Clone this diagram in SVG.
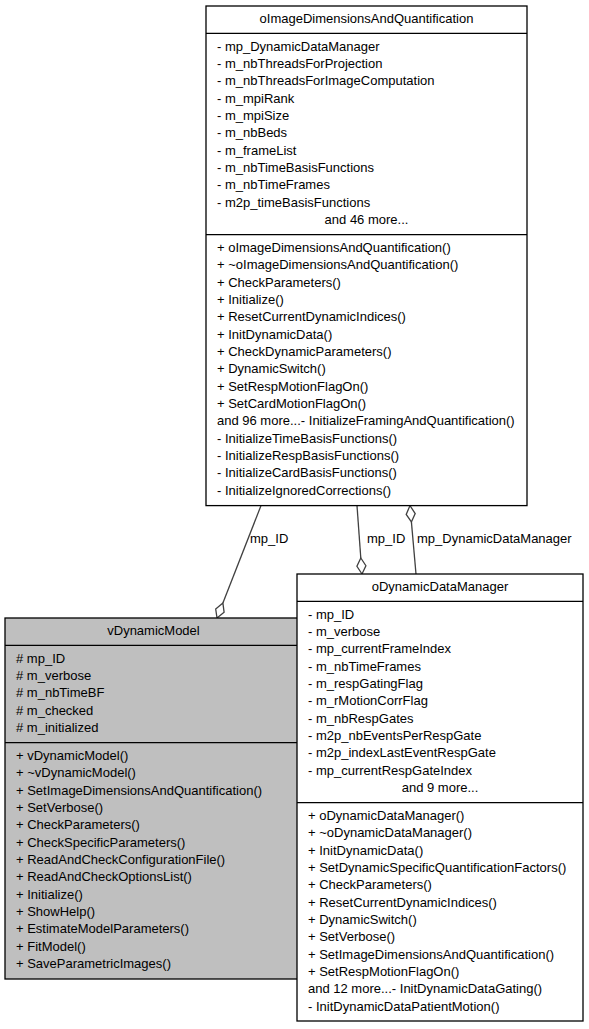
<svg xmlns="http://www.w3.org/2000/svg" width="589" height="1029" viewBox="0 0 589 1029">
<style>
text{font-family:"Liberation Sans",Arial,Helvetica,sans-serif;font-size:13px;fill:#000}
.c{text-anchor:middle}
.box{fill:#fff;stroke:#000;stroke-width:1.3}
.gbox{fill:#bfbfbf;stroke:#000;stroke-width:1.3}
.sep{stroke:#000;stroke-width:1.3}
.edge{fill:none;stroke:#404040;stroke-width:1.3}
.dia{fill:#fff;stroke:#404040;stroke-width:1.3}
</style>
<rect x="0" y="0" width="589" height="1029" fill="#fff"/>
<g id="connectors">
<path class="edge" d="M261,505.6 L222.9,603.1"/>
<polygon class="dia" points="217,618 215.7,609 222.9,603.1 224.1,612.2"/>
<text x="250" y="543">mp_ID</text>
<path class="edge" d="M357,505.6 L360.8,558"/>
<polygon class="dia" points="362,574 356.9,566.3 360.8,558 365.9,565.7"/>
<text x="367" y="543">mp_ID</text>
<path class="edge" d="M416,574 L411.4,521.9"/>
<polygon class="dia" points="410,505.6 415.2,513.6 411.4,521.9 406.2,514.4"/>
<text x="417" y="543">mp_DynamicDataManager</text>
</g>
<g id="oImageDimensionsAndQuantification">
<rect class="box" x="206" y="6" width="321" height="499.6"/>
<line class="sep" x1="206" y1="33.3" x2="527" y2="33.3"/>
<line class="sep" x1="206" y1="234.6" x2="527" y2="234.6"/>
<text class="c" x="366.5" y="23.3">oImageDimensionsAndQuantification</text>
<text x="217" y="50.7">- mp_DynamicDataManager</text>
<text x="217" y="68">- m_nbThreadsForProjection</text>
<text x="217" y="85.3">- m_nbThreadsForImageComputation</text>
<text x="217" y="102.7">- m_mpiRank</text>
<text x="217" y="120">- m_mpiSize</text>
<text x="217" y="137.3">- m_nbBeds</text>
<text x="217" y="154.7">- m_frameList</text>
<text x="217" y="172">- m_nbTimeBasisFunctions</text>
<text x="217" y="189.3">- m_nbTimeFrames</text>
<text x="217" y="206.7">- m2p_timeBasisFunctions</text>
<text class="c" x="366.5" y="224">and 46 more...</text>
<text x="217" y="252">+ oImageDimensionsAndQuantification()</text>
<text x="217" y="269.3">+ ~oImageDimensionsAndQuantification()</text>
<text x="217" y="286.7">+ CheckParameters()</text>
<text x="217" y="304">+ Initialize()</text>
<text x="217" y="321.3">+ ResetCurrentDynamicIndices()</text>
<text x="217" y="338.7">+ InitDynamicData()</text>
<text x="217" y="356">+ CheckDynamicParameters()</text>
<text x="217" y="373.3">+ DynamicSwitch()</text>
<text x="217" y="390.7">+ SetRespMotionFlagOn()</text>
<text x="217" y="408">+ SetCardMotionFlagOn()</text>
<text x="217" y="425.3">and 96 more...- InitializeFramingAndQuantification()</text>
<text x="217" y="442.7">- InitializeTimeBasisFunctions()</text>
<text x="217" y="460">- InitializeRespBasisFunctions()</text>
<text x="217" y="477.3">- InitializeCardBasisFunctions()</text>
<text x="217" y="494.7">- InitializeIgnoredCorrections()</text>
</g>
<g id="vDynamicModel">
<rect class="gbox" x="5" y="618" width="297" height="361"/>
<line class="sep" x1="5" y1="645.3" x2="302" y2="645.3"/>
<line class="sep" x1="5" y1="742.6" x2="302" y2="742.6"/>
<text class="c" x="153.5" y="635.3">vDynamicModel</text>
<text x="16" y="662.7"># mp_ID</text>
<text x="16" y="680"># m_verbose</text>
<text x="16" y="697.3"># m_nbTimeBF</text>
<text x="16" y="714.7"># m_checked</text>
<text x="16" y="732"># m_initialized</text>
<text x="16" y="760">+ vDynamicModel()</text>
<text x="16" y="777.3">+ ~vDynamicModel()</text>
<text x="16" y="794.7">+ SetImageDimensionsAndQuantification()</text>
<text x="16" y="812">+ SetVerbose()</text>
<text x="16" y="829.3">+ CheckParameters()</text>
<text x="16" y="846.7">+ CheckSpecificParameters()</text>
<text x="16" y="864">+ ReadAndCheckConfigurationFile()</text>
<text x="16" y="881.3">+ ReadAndCheckOptionsList()</text>
<text x="16" y="898.7">+ Initialize()</text>
<text x="16" y="916">+ ShowHelp()</text>
<text x="16" y="933.3">+ EstimateModelParameters()</text>
<text x="16" y="950.7">+ FitModel()</text>
<text x="16" y="968">+ SaveParametricImages()</text>
</g>
<g id="oDynamicDataManager">
<rect class="box" x="297" y="574" width="286" height="447"/>
<line class="sep" x1="297" y1="601.3" x2="583" y2="601.3"/>
<line class="sep" x1="297" y1="802.6" x2="583" y2="802.6"/>
<text class="c" x="440" y="591.3">oDynamicDataManager</text>
<text x="308" y="618.7">- mp_ID</text>
<text x="308" y="636">- m_verbose</text>
<text x="308" y="653.3">- mp_currentFrameIndex</text>
<text x="308" y="670.7">- m_nbTimeFrames</text>
<text x="308" y="688">- m_respGatingFlag</text>
<text x="308" y="705.3">- m_rMotionCorrFlag</text>
<text x="308" y="722.7">- m_nbRespGates</text>
<text x="308" y="740">- m2p_nbEventsPerRespGate</text>
<text x="308" y="757.3">- m2p_indexLastEventRespGate</text>
<text x="308" y="774.7">- mp_currentRespGateIndex</text>
<text class="c" x="440" y="792">and 9 more...</text>
<text x="308" y="820">+ oDynamicDataManager()</text>
<text x="308" y="837.3">+ ~oDynamicDataManager()</text>
<text x="308" y="854.7">+ InitDynamicData()</text>
<text x="308" y="872">+ SetDynamicSpecificQuantificationFactors()</text>
<text x="308" y="889.3">+ CheckParameters()</text>
<text x="308" y="906.7">+ ResetCurrentDynamicIndices()</text>
<text x="308" y="924">+ DynamicSwitch()</text>
<text x="308" y="941.3">+ SetVerbose()</text>
<text x="308" y="958.7">+ SetImageDimensionsAndQuantification()</text>
<text x="308" y="976">+ SetRespMotionFlagOn()</text>
<text x="308" y="993.3">and 12 more...- InitDynamicDataGating()</text>
<text x="308" y="1010.7">- InitDynamicDataPatientMotion()</text>
</g>
</svg>
